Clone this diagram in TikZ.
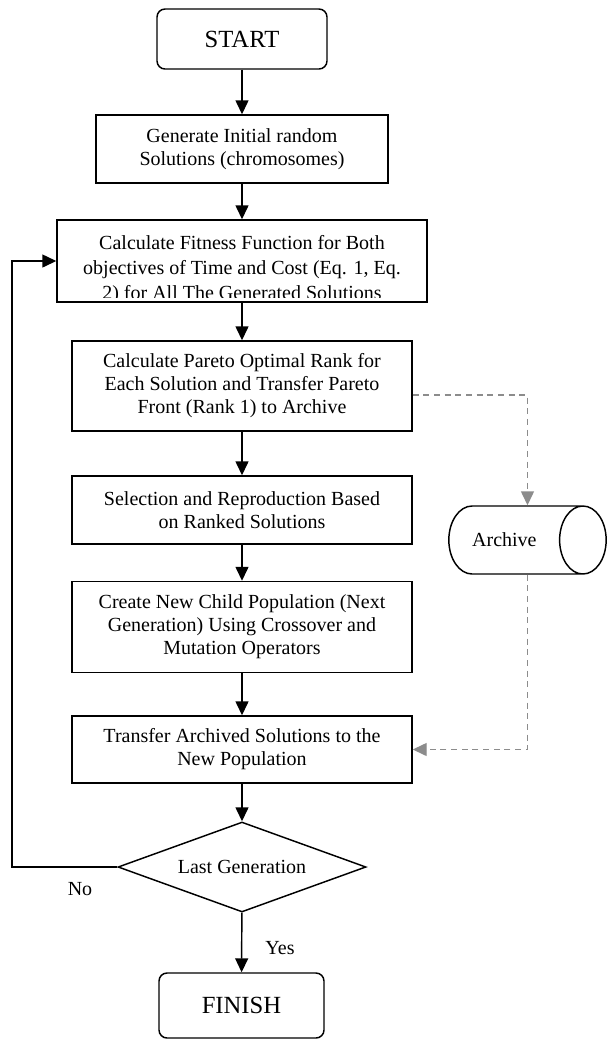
\documentclass[tikz,border=0pt]{standalone}
\usepackage{fontspec}
\setmainfont{Liberation Serif}
\usepackage{xcolor}
\usetikzlibrary{arrows.meta,shapes.geometric}
\definecolor{archgray}{HTML}{8C8C8C}

\begin{document}
\begin{tikzpicture}[x=0.75pt,y=-0.75pt,
  procbox/.style={draw, line width=1.1pt, inner sep=0pt, align=center,
    font=\fontsize{15}{17.2}\selectfont},
  termbox/.style={draw, line width=1.1pt, rounded corners=6pt,
    font=\fontsize{18.5}{22}\selectfont},
  flow/.style={line width=1.1pt, -{Triangle[length=10.5pt,width=9.75pt]}},
  archflow/.style={archgray, line width=1.1pt, dash pattern=on 4.5pt off 3.5pt,
    -{Triangle[length=10.5pt,width=9.75pt]}}]
  \useasboundingbox (0,0) rectangle (607,1040);

  % main column
  \node[termbox, minimum width=127.5pt, minimum height=45pt] (start) at (242,39) {START};
  \node[procbox, minimum width=219pt, minimum height=51pt] (init) at (242,149)
    {Generate Initial random\\Solutions (chromosomes)};
  \node[procbox, minimum width=277.5pt, minimum height=61.5pt] (fitness) at (242,261) {};
  \begin{scope}
    \clip (fitness.north west) rectangle ([yshift=3.75pt]fitness.south east);
    \node[align=center, inner sep=0pt, font=\fontsize{15}{18.75}\selectfont] (fitnesstext) at (242,270)
      {Calculate Fitness Function for Both\\objectives of Time and Cost (Eq. 1, Eq.\\2) for All The Generated Solutions};
  \end{scope}
  \node[procbox, minimum width=255pt, minimum height=67.5pt] (pareto) at (242,386)
    {Calculate Pareto Optimal Rank for\\Each Solution and Transfer Pareto\\Front (Rank 1) to Archive};
  \node[procbox, minimum width=255pt, minimum height=51pt] (select) at (242,510)
    {Selection and Reproduction Based\\on Ranked Solutions};
  \node[procbox, minimum width=255pt, minimum height=68.25pt] (child) at (242,627)
    {Create New Child Population (Next\\Generation) Using Crossover and\\Mutation Operators};
  \node[procbox, minimum width=255pt, minimum height=50.25pt] (transfer) at (242,749.5)
    {Transfer Archived Solutions to the\\New Population};
  \node[diamond, draw, line width=1.1pt, aspect=2.75, inner sep=0pt,
    minimum width=186pt, minimum height=67.5pt,
    font=\fontsize{15}{17.2}\selectfont] (last) at (242,867) {Last Generation};
  \node[termbox, minimum width=123.75pt, minimum height=48.75pt] (finish) at (241.5,1005.5) {FINISH};

  % archive store
  \node[cylinder, draw, line width=1.1pt, aspect=0.75, inner xsep=0pt, inner ysep=18pt,
    minimum width=51pt, minimum height=118pt, anchor=shape center,
    font=\fontsize{15}{17.2}\selectfont] (archive) at (527.5,540) {Archive};

  \node[font=\fontsize{15}{17.2}\selectfont] (nolabel) at (80,889) {No};
  \node[font=\fontsize{15}{17.2}\selectfont] (yeslabel) at (280,948) {Yes};

  % connectors
  \draw[flow] (start) -- (init);
  \draw[flow] (init) -- (fitness);
  \draw[flow] (fitness) -- (pareto);
  \draw[flow] (pareto) -- (select);
  \draw[flow] (select) -- (child);
  \draw[flow] (child) -- (transfer);
  \draw[flow] (transfer) -- (last);
  \draw[flow] (last) -- (finish);
  \coordinate (loopcorner) at (12,867);
  \draw[flow] (last.west) -- (loopcorner) |- (fitness.west);
  \draw[archflow] ([yshift=-6.75pt]pareto.east) -| (archive.shape center |- archive.north);
  \draw[archflow] (archive.shape center |- archive.south) |- (transfer.east);
\end{tikzpicture}
\end{document}
